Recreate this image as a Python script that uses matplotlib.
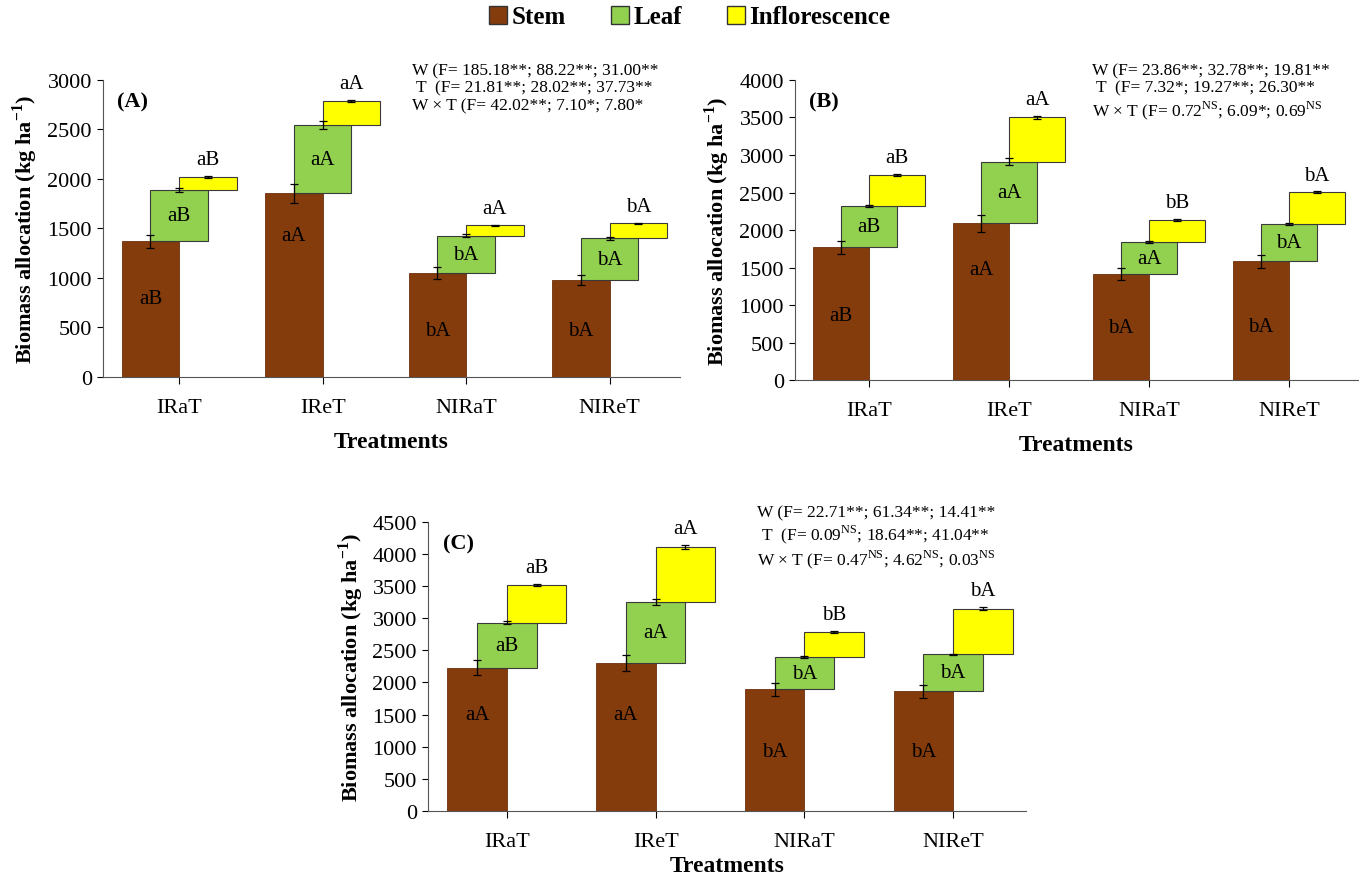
import matplotlib
matplotlib.use("Agg")
import matplotlib.pyplot as plt
from matplotlib.patches import Patch
import numpy as np

plt.rcParams['font.family'] = ['Liberation Serif', 'DejaVu Serif']
plt.rcParams['mathtext.fontset'] = 'custom'
plt.rcParams['mathtext.rm'] = 'Liberation Serif'
plt.rcParams['mathtext.bf'] = 'Liberation Serif:bold'

# ---- data ----
treatments = ["IRaT", "IReT", "NIRaT", "NIReT"]

stem_A = [1370, 1854, 1051, 980]
leaf_A = [517, 691, 376, 420]
infl_A = [135, 242, 105, 151]
stem_err_A = [68, 95, 60, 52]
leaf_err_A = [20, 38, 12, 15]
infl_err_A = [10, 10, 5, 8]

stem_B = [1772, 2091, 1418, 1586]
leaf_B = [554, 820, 420, 496]
infl_B = [407, 589, 297, 421]
stem_err_B = [88, 110, 78, 85]
leaf_err_B = [15, 48, 12, 10]
infl_err_B = [12, 20, 8, 12]

stem_C = [2227, 2304, 1894, 1863]
leaf_C = [705, 950, 504, 576]
infl_C = [582, 856, 389, 711]
stem_err_C = [117, 125, 100, 100]
leaf_err_C = [20, 50, 12, 12]
infl_err_C = [15, 30, 10, 25]

# significance letters
stem_let_A = ["aB", "aA", "bA", "bA"]
leaf_let_A = ["aB", "aA", "bA", "bA"]
infl_let_A = ["aB", "aA", "aA", "bA"]
stem_let_B = ["aB", "aA", "bA", "bA"]
leaf_let_B = ["aB", "aA", "aA", "bA"]
infl_let_B = ["aB", "aA", "bB", "bA"]
stem_let_C = ["aA", "aA", "bA", "bA"]
leaf_let_C = ["aB", "aA", "bA", "bA"]
infl_let_C = ["aB", "aA", "bB", "bA"]

stats_A = ("W (F= 185.18**; 88.22**; 31.00**\n"
           " T  (F= 21.81**; 28.02**; 37.73**\n"
           "W \u00d7 T (F= 42.02**; 7.10*; 7.80*")
stats_B = ("W (F= 23.86**; 32.78**; 19.81**\n"
           " T  (F= 7.32*; 19.27**; 26.30**\n"
           "W \u00d7 T (F= 0.72$^{\\rm NS}$; 6.09*; 0.69$^{\\rm NS}$")
stats_C = ("W (F= 22.71**; 61.34**; 14.41**\n"
           " T  (F= 0.09$^{\\rm NS}$; 18.64**; 41.04**\n"
           "W \u00d7 T (F= 0.47$^{\\rm NS}$; 4.62$^{\\rm NS}$; 0.03$^{\\rm NS}$")

# ---- style ----
c_stem = "#843C0C"
c_leaf = "#92D050"
c_infl = "#FFFF00"
w = 0.4


def draw_panel(ax, stem, leaf, infl, se, le, ie, sl, ll, il, stem_lab_y,
               ymax, tag, stats, stats_xy, xpad):
    x = np.arange(len(treatments))
    stem = np.array(stem)
    leaf = np.array(leaf)
    infl = np.array(infl)
    leaf_top = stem + leaf
    infl_top = leaf_top + infl

    ax.bar(x - w / 2, stem, width=w, color=c_stem, edgecolor="#6b300a", linewidth=0.6)
    ax.bar(x, leaf, bottom=stem, width=w, color=c_leaf, edgecolor="#3a3a3a", linewidth=0.8)
    ax.bar(x + w / 2, infl, bottom=leaf_top, width=w, color=c_infl, edgecolor="#3a3a3a", linewidth=0.8)

    ek = dict(fmt="none", ecolor="black", elinewidth=0.9, capsize=3, capthick=0.9)
    ax.errorbar(x - w / 2, stem, yerr=se, **ek)
    ax.errorbar(x, leaf_top, yerr=le, **ek)
    ax.errorbar(x + w / 2, infl_top, yerr=ie, **ek)

    for i in range(len(x)):
        ax.text(x[i] - w / 2, stem_lab_y[i], sl[i], ha="center", va="center", fontsize=15)
        ax.text(x[i], (stem[i] + leaf_top[i]) / 2, ll[i], ha="center", va="center", fontsize=15)
        ax.annotate(il[i], (x[i] + w / 2, infl_top[i] + ie[i]), xytext=(0, 5),
                    textcoords="offset points", ha="center", va="bottom", fontsize=15)

    ax.set_xlim(-0.53, 3.49)
    ax.set_ylim(0, ymax)
    ax.set_yticks(np.arange(0, ymax + 1, 500))
    ax.set_xticks(x)
    ax.set_xticklabels(treatments, fontsize=16)
    ax.tick_params(axis="y", labelsize=16, direction="out", length=4, width=0.8, pad=4)
    ax.tick_params(axis="x", direction="out", length=5, width=0.8, pad=10)
    for s in ["top", "right"]:
        ax.spines[s].set_visible(False)
    ax.spines["left"].set_color("#555555")
    ax.spines["bottom"].set_color("#555555")
    ax.set_ylabel("Biomass allocation (kg ha$^{\\mathbf{-1}}$)", fontsize=16,
                  fontweight="bold", labelpad=5)
    ax.set_xlabel("Treatments", fontsize=17, fontweight="bold", labelpad=xpad)
    ax.text(0.025, 0.96, tag, transform=ax.transAxes, fontsize=16,
            fontweight="bold", va="top", ha="left")
    ax.figure.text(stats_xy[0], stats_xy[1], stats, fontsize=12.5, ha="left",
                   va="top", linespacing=1.15)


fig = plt.figure(figsize=(13.59, 8.79), dpi=100)
axA = fig.add_axes([0.0758, 0.570, 0.4246, 0.338])
axB = fig.add_axes([0.585, 0.566, 0.414, 0.342])
axC = fig.add_axes([0.315, 0.0762, 0.440, 0.329])

draw_panel(axA, stem_A, leaf_A, infl_A, stem_err_A, leaf_err_A, infl_err_A,
           stem_let_A, leaf_let_A, infl_let_A, [796, 1427, 470, 470],
           3000, "(A)", stats_A, (412 / 1359, 1 - 63 / 879), 10)
draw_panel(axB, stem_B, leaf_B, infl_B, stem_err_B, leaf_err_B, infl_err_B,
           stem_let_B, leaf_let_B, infl_let_B, [864, 1471, 709, 718],
           4000, "(B)", stats_B, (1092 / 1359, 1 - 63 / 879), 10)
draw_panel(axC, stem_C, leaf_C, infl_C, stem_err_C, leaf_err_C, infl_err_C,
           stem_let_C, leaf_let_C, infl_let_C, [1500, 1500, 919, 919],
           4500, "(C)", stats_C, (757 / 1359, 1 - 505 / 879), 3)

handles = [Patch(facecolor=c_stem, edgecolor="#333333", label="Stem"),
           Patch(facecolor=c_leaf, edgecolor="#333333", label="Leaf"),
           Patch(facecolor=c_infl, edgecolor="#333333", label="Inflorescence")]
fig.legend(handles=handles, loc="center", bbox_to_anchor=(690 / 1359, 1 - 18 / 879),
           ncol=3, frameon=False, prop={"weight": "bold", "size": 18},
           handlelength=0.7, handleheight=0.7, handletextpad=0.2, columnspacing=1.8)

fig.savefig("out.png", dpi=100)
